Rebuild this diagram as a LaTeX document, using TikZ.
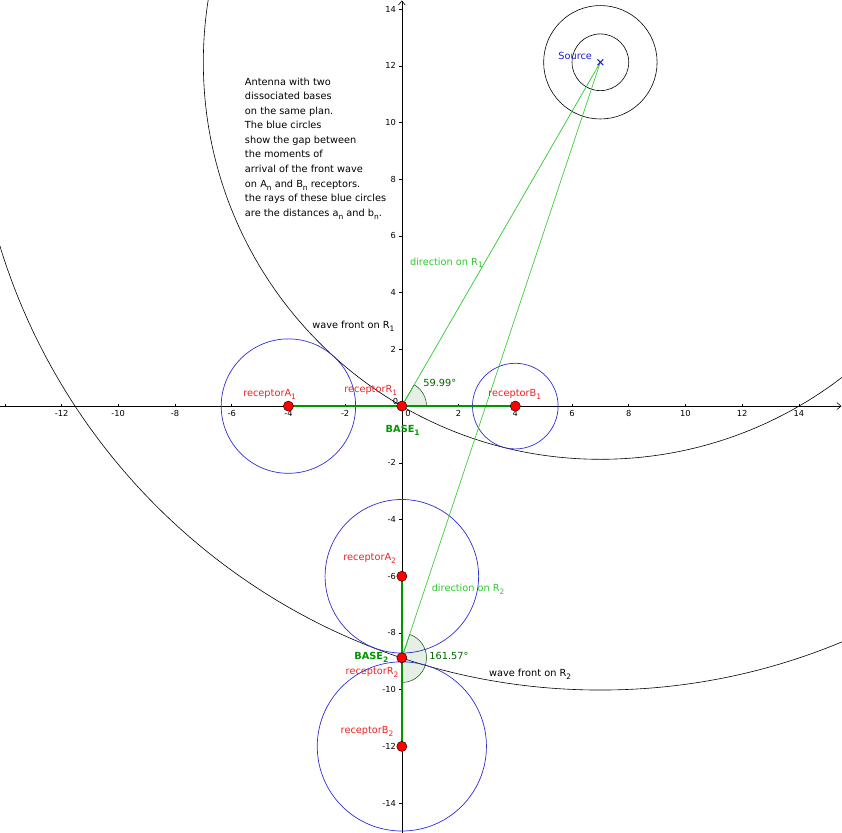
\documentclass[tikz,border=0pt]{standalone}
\usepackage{fontspec}
\setmainfont{DejaVu Sans}
\usetikzlibrary{arrows.meta,calc}
\definecolor{ggblue}{RGB}{45,45,215}
\definecolor{gglgreen}{RGB}{45,200,45}
\definecolor{ggdgreen}{RGB}{0,150,0}
\definecolor{ggred}{RGB}{235,35,35}
\definecolor{ggangle}{RGB}{0,100,0}
\definecolor{ggsrc}{RGB}{30,30,210}
\newcommand\sbs[1]{\raisebox{-0.55ex}{\fontsize{7.5}{8}\selectfont #1}}
\tikzset{
  axisline/.style={line width=0.6pt, black, -{Straight Barb[length=1.4mm,width=2.4mm]}},
  tickmark/.style={line width=0.5pt, black},
  ticklab/.style={font=\fontsize{8.3}{9}\selectfont, inner sep=0pt},
  wave/.style={line width=0.6pt, black},
  gap/.style={line width=0.7pt, ggblue},
  ray/.style={line width=0.7pt, gglgreen},
  basebar/.style={line width=1.8pt, ggdgreen},
  pt/.style={circle, fill=red, draw=black, line width=0.4pt, minimum size=0.36cm, inner sep=0pt},
  lab/.style={font=\fontsize{9.8}{12}\selectfont, inner sep=0pt, anchor=base west},
  redlab/.style={lab, text=ggred},
  sector/.style={draw=ggangle!80!black, line width=0.5pt, fill=ggangle, fill opacity=0.1, draw opacity=1},
}
\begin{document}
\begin{tikzpicture}[x=1cm,y=1cm]
\useasboundingbox (-14.17,-15.02) rectangle (15.52,14.32);
\clip (-14.17,-15.02) rectangle (15.52,14.32);
% coordinates
\coordinate (S) at (7,12.124);
\coordinate (B1) at (0,0);
\coordinate (B2) at (0,-8.876);
\coordinate (A1) at (-4,0);
\coordinate (RB1) at (4,0);
\coordinate (A2) at (0,-6);
\coordinate (RB2) at (0,-12);
\coordinate (xl) at (-14.2,0);
\coordinate (xr) at (15.50,0);
\coordinate (yb) at (0,-15.1);
\coordinate (yt) at (0,14.30);
% axes
\draw[axisline] (xl) -- (xr);
\draw[axisline] (yb) -- (yt);
\foreach \v in {-14,-12,...,14} {
  \draw[tickmark] (\v,0) -- (\v,0.09);
  \draw[tickmark] (-0.09,\v) -- (0,\v);
}
\foreach \v in {-12,-10,...,-2,2,4,...,14} {
  \node[ticklab, anchor=north] (xt\v) at (\v,-0.16) {\v};
}
\foreach \v in {-14,-12,...,-2,2,4,...,14} {
  \node[ticklab, anchor=east] (yt\v) at (-0.2,\v) {\v};
}
\node[ticklab, anchor=north west] (x0) at (0.12,-0.16) {0};
\node[ticklab, anchor=south east] (y0) at (-0.12,0.05) {0};
% wave fronts and source circles
\draw[wave] (S) circle (14);
\draw[wave] (S) circle (22.136);
\draw[wave] (S) circle (1);
\draw[wave] (S) circle (2);
% blue gap circles
\draw[gap] (A1) circle (2.370);
\draw[gap] (RB1) circle (1.510);
\draw[gap] (A2) circle (2.707);
\draw[gap] (RB2) circle (2.983);
% angle sectors
\draw[sector] (B1) -- ++(0:0.87) arc (0:59.99:0.87) -- cycle;
\draw[sector] (B2) -- ++(-90:0.87) arc (-90:71.565:0.87) -- cycle;
% rays
\draw[ray] (B1) -- (S);
\draw[ray] (B2) -- (S);
% base bars
\draw[basebar] (A1) -- (RB1);
\draw[basebar] (A2) -- (RB2);
% source marker
\draw[ggsrc, line width=1pt] ($(S)+(-0.1,-0.1)$) -- ($(S)+(0.1,0.1)$);
\draw[ggsrc, line width=1pt] ($(S)+(-0.1,0.1)$) -- ($(S)+(0.1,-0.1)$);
% points
\node[pt] (pA1) at (A1) {};
\node[pt] (pR1) at (B1) {};
\node[pt] (pB1) at (RB1) {};
\node[pt] (pA2) at (A2) {};
\node[pt] (pR2) at (B2) {};
\node[pt] (pB2) at (RB2) {};
% labels
\node[lab, text=ggsrc] (lsrc) at (5.513,12.205) {Source};
\node[lab, text=gglgreen] (ldir1) at (0.282,4.974) {direction on R\sbs{1}};
\node[lab] (lwf1) at (-3.164,2.741) {wave front on R\sbs{1}};
\node[redlab] (lA1) at (-5.598,0.353) {receptorA\sbs{1}};
\node[redlab] (lR1) at (-2.035,0.483) {receptorR\sbs{1}};
\node[lab, text=ggangle] (lang1) at (0.751,0.681) {59.99°};
\node[redlab] (lB1) at (3.044,0.328) {receptorB\sbs{1}};
\node[lab, text=ggdgreen, font=\fontsize{9.8}{12}\selectfont\bfseries] (lbase1) at (-0.575,-0.942) {BASE\sbs{\bfseries 1}};
\node[redlab] (lA2) at (-2.071,-5.432) {receptorA\sbs{2}};
\node[lab, text=gglgreen] (ldir2) at (1.048,-6.550) {direction on R\sbs{2}};
\node[lab, text=ggdgreen, font=\fontsize{9.8}{12}\selectfont\bfseries] (lbase2) at (-1.683,-8.924) {BASE\sbs{\bfseries 2}};
\node[lab, text=ggangle] (lang2) at (0.963,-8.935) {161.57°};
\node[redlab] (lR2) at (-1.986,-9.453) {receptorR\sbs{2}};
\node[lab] (lwf2) at (3.069,-9.548) {wave front on R\sbs{2}};
\node[redlab] (lB2) at (-2.162,-11.545) {receptorB\sbs{2}};
% explanatory text
\node[inner sep=0pt, anchor=north west, align=left, font=\fontsize{9.8}{14.63}\selectfont] (note) at (-5.538,11.59) {%
Antenna with two\\
dissociated bases\\
on the same plan.\\
The blue circles\\
show the gap between\\
the moments of\\
arrival of the front wave\\
on A\sbs{n} and B\sbs{n} receptors.\\
the rays of these blue circles\\
are the distances a\sbs{n} and b\sbs{n}.};
\end{tikzpicture}
\end{document}
